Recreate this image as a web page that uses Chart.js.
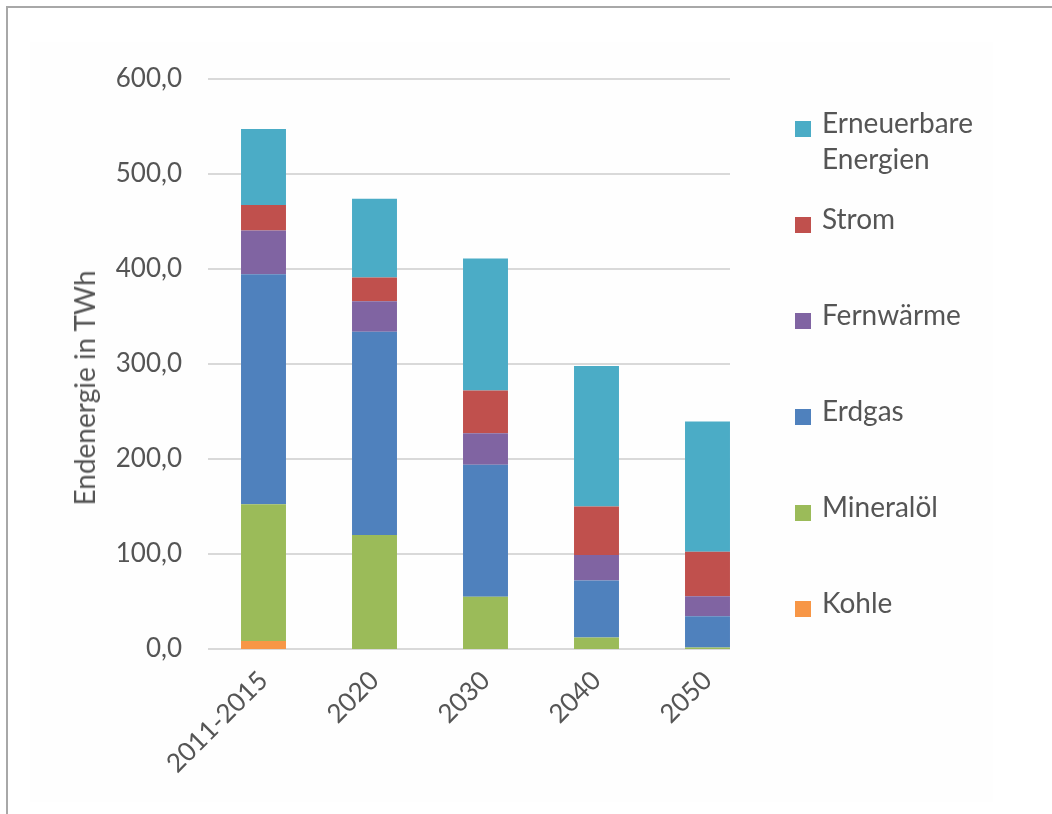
<!DOCTYPE html>
<html>
<head>
<meta charset="utf-8">
<script src="https://cdn.jsdelivr.net/npm/chart.js@4"></script>
<style>
  body { margin: 0; background: #fff; font-family: Lato, "Open Sans", sans-serif; }
  .frame { position: absolute; left: 6px; top: 6px; width: 1046px; height: 808px;
           border-top: 2px solid #a8a8a8; border-left: 2px solid #a8a8a8; }
  .panel { position: absolute; left: 30px; top: 42px; width: 963px; height: 760px; background: #fefefe; }
  #wrap { position: absolute; left: 0; top: 0; width: 1052px; height: 814px; }
  .ytitle { position: absolute; left: 84px; top: 388px; transform: translate(-50%, -50%) rotate(-90deg);
            white-space: nowrap; font-size: 28px; color: #555; }
  .legend-item { position: absolute; left: 822px; width: 175px; font-size: 28px; line-height: 36px; color: #555; }
  .legend-item span { position: absolute; left: -27px; top: 17px; width: 16px; height: 16px; }
</style>
</head>
<body>
<div class="frame"></div>
<div class="panel"></div>
<div id="wrap"><canvas id="myChart" width="1052" height="814"></canvas></div>
<div class="ytitle">Endenergie in TWh</div>
<div id="legend"></div>
<script>
// Kategorien und Werte (TWh), von unten nach oben gestapelt
const labels = ['2011-2015', '2020', '2030', '2040', '2050'];
const kohle = [8.5, 0, 0, 0, 0];
const mineraloel = [144, 120, 55, 12, 1.5];
const erdgas = [242, 214, 139, 60, 33];
const fernwaerme = [46, 32, 33, 27, 21];
const strom = [27, 25, 45, 51, 47];
const erneuerbare = [80, 83, 139, 148, 137];

const datasets = [
  { label: 'Kohle', data: kohle, backgroundColor: '#f79646' },
  { label: 'Mineralöl', data: mineraloel, backgroundColor: '#9bbb59' },
  { label: 'Erdgas', data: erdgas, backgroundColor: '#4f81bd' },
  { label: 'Fernwärme', data: fernwaerme, backgroundColor: '#8064a2' },
  { label: 'Strom', data: strom, backgroundColor: '#c0504d' },
  { label: 'Erneuerbare Energien', data: erneuerbare, backgroundColor: '#4bacc6' },
];

// Gitterlinien enden am letzten Balken
const shortGrid = {
  id: 'shortGrid',
  beforeDatasetsDraw(chart) {
    const { ctx, chartArea, scales } = chart;
    const meta = chart.getDatasetMeta(0);
    const last = meta.data[meta.data.length - 1];
    const right = last.x + last.width / 2;
    ctx.save();
    ctx.strokeStyle = '#d9d9d9';
    ctx.lineWidth = 2;
    scales.y.ticks.forEach((t, i) => {
      const y = Math.round(scales.y.getPixelForTick(i));
      ctx.beginPath();
      ctx.moveTo(chartArea.left, y);
      ctx.lineTo(right, y);
      ctx.stroke();
    });
    ctx.restore();
  }
};

const ctx = document.getElementById('myChart').getContext('2d');
new Chart(ctx, {
  type: 'bar',
  data: {
    labels: labels,
    datasets: datasets.map(d => ({ ...d, barPercentage: 0.405, categoryPercentage: 1, borderWidth: 0 })),
  },
  options: {
    responsive: false,
    animation: false,
    layout: { padding: { left: 0, top: 79, right: 289, bottom: 0 } },
    plugins: { legend: { display: false }, tooltip: { enabled: false } },
    scales: {
      x: {
        stacked: true,
        grid: { display: false },
        border: { display: false },
        ticks: {
          color: '#555',
          font: { family: 'Lato', size: 26 },
          minRotation: 45,
          maxRotation: 45,
          padding: 8,
        },
        afterFit: scale => { scale.height = 165; },
      },
      y: {
        stacked: true,
        min: 0,
        max: 600,
        grid: { display: false, drawTicks: false },
        border: { display: false },
        ticks: {
          stepSize: 100,
          color: '#555',
          font: { family: 'Lato', size: 26 },
          padding: 26,
          callback: value => value.toFixed(1).replace('.', ','),
        },
        afterFit: scale => { scale.width = 208; },
      },
    },
  },
  plugins: [shortGrid],
});

// Legende rechts, oberste Serie zuerst
const legend = document.getElementById('legend');
datasets.slice().reverse().forEach((d, i) => {
  const item = document.createElement('div');
  item.className = 'legend-item';
  item.style.top = (104 + 96 * i) + 'px';
  item.innerHTML = '<span style="background:' + d.backgroundColor + '"></span>' + d.label;
  legend.appendChild(item);
});
</script>
</body>
</html>
